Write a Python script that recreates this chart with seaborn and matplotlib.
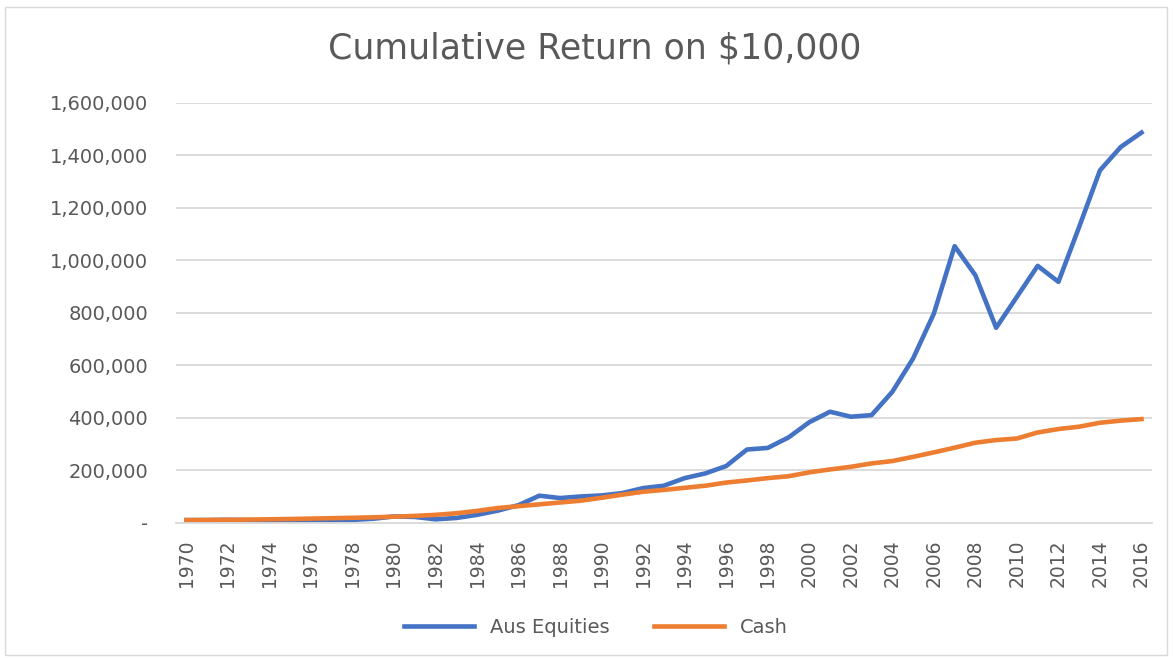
import pandas as pd
import matplotlib.pyplot as plt
import seaborn as sns
from matplotlib.ticker import FuncFormatter
from matplotlib.patches import Rectangle

years = list(range(1970, 2017))

aus_equities = [
    10000, 10000, 11000, 10000, 8000, 10000, 10000, 10000, 11000, 15000,
    24000, 22000, 13000, 18000, 30000, 46000, 67000, 103000, 94000, 100000,
    104000, 113000, 132000, 141000, 170000, 188000, 216000, 279000, 285000, 325000,
    383000, 423000, 404000, 410000, 499000, 626000, 797000, 1054000, 943000, 743000,
    861000, 979000, 918000, 1128000, 1343000, 1432000, 1487000,
]

cash = [
    10000, 10600, 11200, 11900, 13000, 14200, 15700, 17300, 18800, 20500,
    23000, 26000, 30000, 36000, 45000, 56000, 63000, 70000, 77000, 84000,
    95000, 107000, 118000, 125000, 133000, 141000, 153000, 161000, 170000, 177000,
    192000, 203000, 213000, 226000, 235000, 251000, 268000, 286000, 305000, 315000,
    321000, 344000, 357000, 366000, 381000, 389000, 395000,
]

df = pd.DataFrame({"Year": years, "Aus Equities": aus_equities, "Cash": cash})
long_df = df.melt(id_vars="Year", var_name="Series", value_name="Value")

text_color = "#595959"

fig = plt.figure(figsize=(11.73, 6.58), dpi=100)
ax = fig.add_axes([0.150, 0.2056, 0.832, 0.638])

sns.lineplot(
    data=long_df,
    x="Year",
    y="Value",
    hue="Series",
    palette={"Aus Equities": "#4472C4", "Cash": "#ED7D31"},
    linewidth=3.3,
    ax=ax,
    legend=True,
)

ax.set_xlim(1969.5, 2016.5)
ax.set_ylim(0, 1600000)
ax.set_yticks(range(0, 1600001, 200000))
ax.yaxis.set_major_formatter(FuncFormatter(lambda v, p: "-" if v == 0 else f"{int(v):,}"))
ax.set_xticks(years[::2])
ax.set_xticklabels([str(y) for y in years[::2]], rotation=90)

ax.grid(axis="y", color="#D9D9D9", linewidth=1.3)
ax.grid(axis="x", visible=False)
ax.set_axisbelow(True)
for side in ["top", "right", "left"]:
    ax.spines[side].set_visible(False)
ax.spines["bottom"].set_color("#D9D9D9")
ax.spines["bottom"].set_linewidth(1.3)
ax.tick_params(axis="y", length=0, labelsize=14, colors=text_color, pad=20)
ax.tick_params(axis="x", length=0, labelsize=13.5, colors=text_color, pad=12)
ax.set_xlabel("")
ax.set_ylabel("")

fig.text(0.507, 0.927, "Cumulative Return on $10,000", ha="center", va="center",
         fontsize=25, color=text_color)

handles, labels = ax.get_legend_handles_labels()
ax.get_legend().remove()
fig.legend(handles, labels, loc="center", bbox_to_anchor=(0.508, 0.047), ncol=2,
           frameon=False, fontsize=14, labelcolor=text_color, handlelength=3.6,
           columnspacing=2.3)

fig.patches.append(Rectangle((5 / 1173, 3 / 658), 1162 / 1173, 648 / 658,
                             transform=fig.transFigure, fill=False,
                             edgecolor="#D9D9D9", linewidth=1))

fig.savefig("out.png", dpi=100)
